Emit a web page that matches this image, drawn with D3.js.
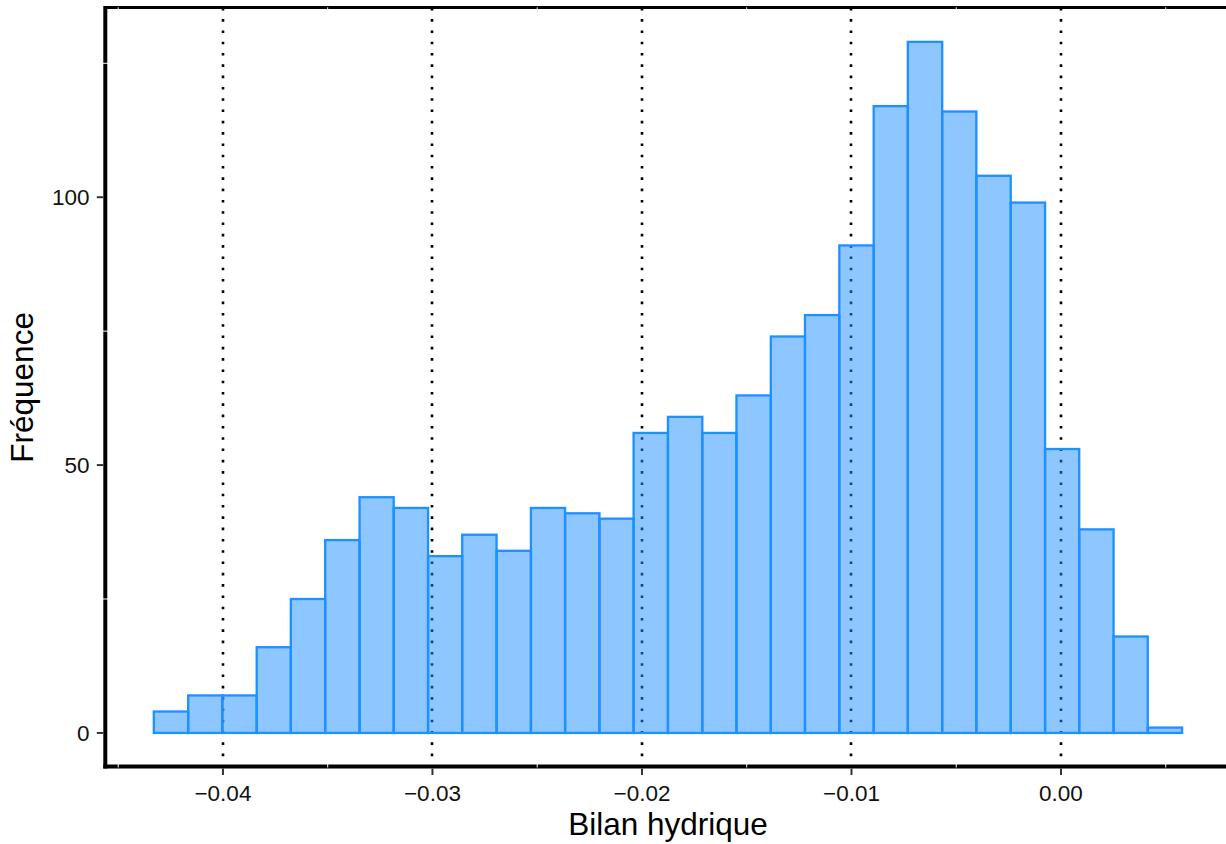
<!DOCTYPE html>
<html>
  <head>
    <meta charset="UTF-8">
    <title>Bilan hydrique</title>
    <style>
      body { margin: 0; background: #fff; }
      svg { display: block; }
      text { font-family: "Liberation Sans", Arial, sans-serif; }
      .tick-label { font-size: 22.5px; fill: #111; }
      .axis-title { font-size: 31.5px; fill: #000; }
    </style>
    <script src="https://d3js.org/d3.v7.min.js"></script>
  </head>
  <body>
    <script type="text/javascript">
      /* ==== Data ==== */
      // bin edges of the 30 bins
      var binEdges = [-0.04330, -0.04166, -0.04003, -0.03839, -0.03676, -0.03512,
                      -0.03348, -0.03185, -0.03021, -0.02858, -0.02694, -0.02530,
                      -0.02367, -0.02203, -0.02040, -0.01876, -0.01712, -0.01549,
                      -0.01385, -0.01222, -0.01058, -0.00894, -0.00731, -0.00567,
                      -0.00404, -0.00240, -0.00076, 0.00087, 0.00251, 0.00414,
                      0.00578];
      // frequency in each bin
      var counts = [4, 7, 7, 16, 25, 36, 44, 42, 33, 37, 34, 42, 41, 40, 56,
                    59, 56, 63, 74, 78, 91, 117, 129, 116, 104, 99, 53, 38, 18, 1];

      var xTicks = [-0.04, -0.03, -0.02, -0.01, 0.00];
      var xMinor = [-0.045, -0.035, -0.025, -0.015, -0.005, 0.005];
      var yTicks = [0, 50, 100];
      var yMinor = [25, 75, 125];

      var xTitle = "Bilan hydrique";
      var yTitle = "Fréquence";

      /* ==== Layout ==== */
      var width = 1226,
          height = 844;

      var bins = counts.map(function(c, i) {
          return {x0: binEdges[i], x1: binEdges[i + 1], n: c};
      });

      // ggplot style 5% expansion
      var xMin = binEdges[0], xMax = binEdges[binEdges.length - 1];
      var xPad = (xMax - xMin) * 0.05;
      var yMax = d3.max(counts), yPad = yMax * 0.05;

      var x = d3.scaleLinear()
          .domain([xMin - xPad, xMax + xPad])
          .range([102.4, 1233.5]);

      var y = d3.scaleLinear()
          .domain([-yPad, yMax + yPad])
          .range([767.5, 7.3]);

      var panel = {left: 105.3, top: 7.5, bottom: 766.5};

      var svg = d3.select("body").append("svg")
          .attr("width", width)
          .attr("height", height);

      /* ==== Panel outline (drawn under the grid) ==== */
      var border = svg.append("g");
      border.append("line")
          .attr("x1", panel.left).attr("x2", width + 10)
          .attr("y1", panel.top).attr("y2", panel.top)
          .attr("stroke", "#000").attr("stroke-width", 3);
      border.append("line")
          .attr("x1", panel.left).attr("x2", panel.left)
          .attr("y1", panel.top - 1.5).attr("y2", panel.bottom + 2)
          .attr("stroke", "#000").attr("stroke-width", 4);
      border.append("line")
          .attr("x1", panel.left - 2).attr("x2", width + 10)
          .attr("y1", panel.bottom).attr("y2", panel.bottom)
          .attr("stroke", "#000").attr("stroke-width", 4);

      /* ==== Grid ==== */
      // white minor grid, only visible where it crosses the outline
      svg.append("g").selectAll("line.minor-x")
          .data(xMinor).enter().append("line")
          .attr("x1", function(d) { return x(d); })
          .attr("x2", function(d) { return x(d); })
          .attr("y1", y.range()[0]).attr("y2", y.range()[1])
          .attr("stroke", "#fff").attr("stroke-width", 1);

      svg.append("g").selectAll("line.minor-y")
          .data(yMinor).enter().append("line")
          .attr("x1", x.range()[0]).attr("x2", x.range()[1])
          .attr("y1", function(d) { return y(d); })
          .attr("y2", function(d) { return y(d); })
          .attr("stroke", "#fff").attr("stroke-width", 1);

      // dotted major x grid (snapped to the pixel grid so the dots stay crisp)
      svg.append("g").selectAll("line.major-x")
          .data(xTicks).enter().append("line")
          .attr("x1", function(d) { return Math.round(x(d)); })
          .attr("x2", function(d) { return Math.round(x(d)); })
          .attr("y1", y.range()[0]).attr("y2", y.range()[1])
          .attr("stroke", "#000")
          .attr("stroke-width", 2.6)
          .attr("stroke-dasharray", "2.6 8.7");

      /* ==== Bars ==== */
      svg.append("g").selectAll("rect")
          .data(bins).enter().append("rect")
          .attr("x", function(d) { return x(d.x0); })
          .attr("width", function(d) { return x(d.x1) - x(d.x0); })
          .attr("y", function(d) { return y(d.n); })
          .attr("height", function(d) { return y(0) - y(d.n); })
          .attr("fill", "#1e90ff")
          .attr("fill-opacity", 0.5)
          .attr("stroke", "#1e90ff")
          .attr("stroke-width", 2.3);

      /* ==== Axes ==== */
      var fmt = d3.format(".2f");

      var xAxis = svg.append("g");
      xAxis.selectAll("line")
          .data(xTicks).enter().append("line")
          .attr("x1", function(d) { return x(d); })
          .attr("x2", function(d) { return x(d); })
          .attr("y1", panel.bottom + 2).attr("y2", panel.bottom + 8.5)
          .attr("stroke", "#333").attr("stroke-width", 2);
      xAxis.selectAll("text")
          .data(xTicks).enter().append("text")
          .attr("class", "tick-label")
          .attr("x", function(d) { return x(d); })
          .attr("y", 801)
          .attr("text-anchor", "middle")
          .text(function(d) { return fmt(d); });

      var yAxis = svg.append("g");
      yAxis.selectAll("line")
          .data(yTicks).enter().append("line")
          .attr("x1", panel.left - 2).attr("x2", panel.left - 8.5)
          .attr("y1", function(d) { return y(d); })
          .attr("y2", function(d) { return y(d); })
          .attr("stroke", "#333").attr("stroke-width", 2);
      yAxis.selectAll("text")
          .data(yTicks).enter().append("text")
          .attr("class", "tick-label")
          .attr("x", 89.5)
          .attr("y", function(d) { return y(d) + 8; })
          .attr("text-anchor", "end")
          .text(function(d) { return d; });

      /* ==== Titles ==== */
      svg.append("text")
          .attr("class", "axis-title")
          .attr("x", (x.range()[0] + x.range()[1]) / 2)
          .attr("y", 834.5)
          .attr("text-anchor", "middle")
          .text(xTitle);

      svg.append("text")
          .attr("class", "axis-title")
          .attr("transform", "translate(33," + ((y.range()[0] + y.range()[1]) / 2) + ") rotate(-90)")
          .attr("text-anchor", "middle")
          .text(yTitle);
    </script>
  </body>
</html>
